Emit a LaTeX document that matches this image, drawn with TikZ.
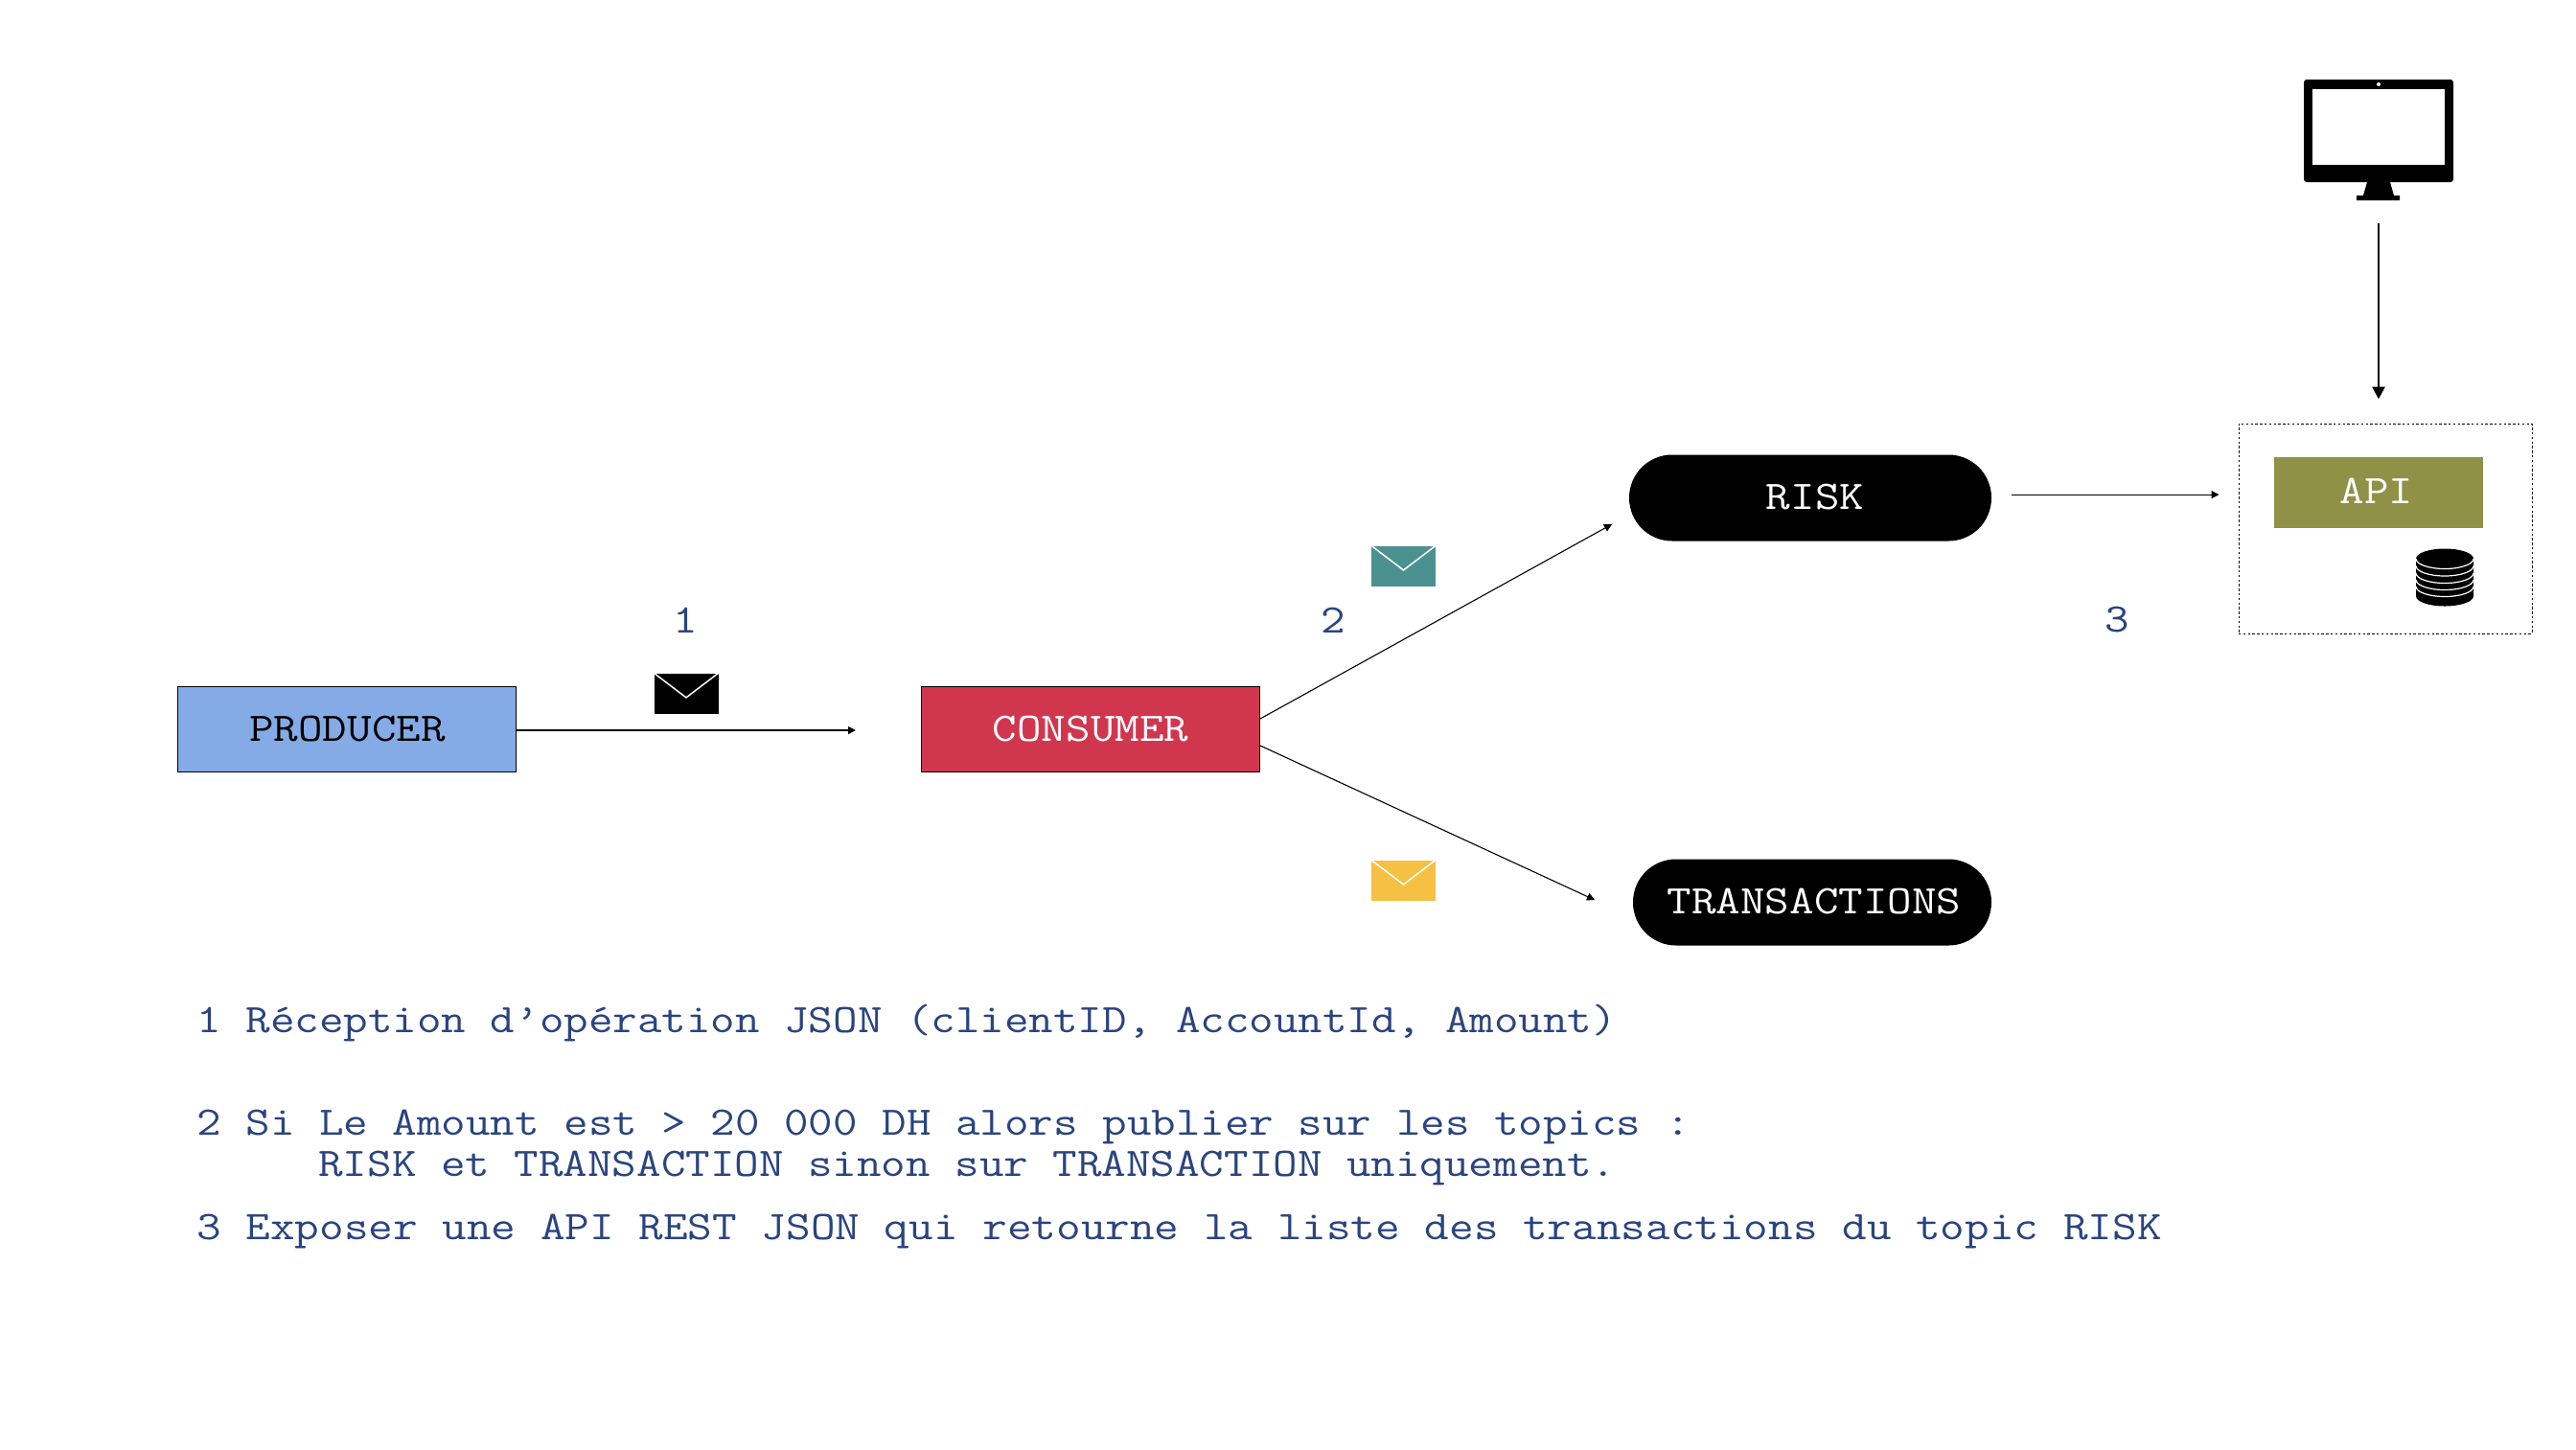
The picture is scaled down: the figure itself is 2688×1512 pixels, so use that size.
\documentclass[tikz,border=0pt]{standalone}
\usepackage{fontspec}
\setmonofont[FakeStretch=1.172]{Latin Modern Mono}
\usetikzlibrary{arrows.meta,calc}
\definecolor{txtblue}{HTML}{2A4480}
\definecolor{prodblue}{HTML}{85ABE6}
\definecolor{consred}{HTML}{D0374F}
\definecolor{apiolive}{HTML}{8F9146}
\definecolor{envteal}{HTML}{4B9190}
\definecolor{envyellow}{HTML}{F5C044}
\tikzset{
  x=0.5pt,y=-0.5pt,
  mono/.style={font=\ttfamily\fontsize{21.16pt}{25pt}\selectfont},
  mono3/.style={font=\ttfamily\fontsize{21.23pt}{25pt}\selectfont},
  boxnode/.style={mono,rectangle,draw=black,line width=0.5pt,minimum width=176.5pt,minimum height=44.5pt,inner sep=0pt},
  pill/.style={mono,rectangle,fill=black,text=white,rounded corners=22.4pt,minimum height=45pt,inner sep=0pt},
  numlabel/.style={mono,text=txtblue,inner sep=0pt,anchor=center},
  note/.style={mono,text=txtblue,inner sep=0pt,anchor=base west},
  note3/.style={note,mono3},
  envnode/.style={rectangle,minimum width=33.5pt,minimum height=21pt,inner sep=0pt},
  thinarrow/.style={line width=0.55pt,-{Triangle[length=4pt,width=4pt]}},
  boldarrow/.style={line width=1.35pt,-{Triangle[length=6.5pt,width=6.5pt]}},
}
\newcommand{\envelopeat}[4]{%
  \node[envnode,fill=#4] (#1) at (#2,#3) {};
  \draw[white,line width=0.75pt] (#1.north west) -- ([yshift=-2.2pt]#1.center) -- (#1.north east);
}
\begin{document}
\begin{tikzpicture}
\useasboundingbox (0,0) rectangle (2688,1512);
\fill[white] (0,0) rectangle (2688,1512);

% main boxes
\node[boxnode,fill=prodblue] (producer) at (361.5,761) {\hspace*{1pt}PRODUCER};
\node[boxnode,fill=consred,text=white] (consumer) at (1138,761) {CONSUMER};
\node[pill,minimum width=189pt] (risk) at (1889,519.5) {};
\node[mono,text=white,inner sep=0pt] (risktext) at (1894,518.5) {RISK};
\node[pill,minimum width=187pt] (transactions) at (1891,941.5) {};
\node[mono,text=white,inner sep=0pt] (transtext) at (1893,941) {TRANSACTIONS};

% API group
\node[rectangle,draw=black,densely dashed,dash pattern=on 1.2pt off 1.2pt,line width=0.5pt,minimum width=153pt,minimum height=109.5pt,inner sep=0pt] (apigroup) at (2489,551.5) {};
\node[mono,rectangle,fill=apiolive,text=white,minimum width=109pt,minimum height=37pt,inner sep=0pt] (api) at (2482,514) {};
\node[mono,text=white,inner sep=0pt] (apitext) at (2480,512) {API};

% database
\fill[black] (2521,583) arc[start angle=180,end angle=0,x radius=15pt,y radius=5.25pt] -- (2581,622) arc[start angle=0,end angle=-180,x radius=15pt,y radius=5.25pt] -- cycle;
\foreach \yy in {583,590.5,598,605,612}{
  \draw[white,line width=0.6pt] (2521,\yy) arc[start angle=180,end angle=360,x radius=15pt,y radius=5.25pt];
}

% monitor
\node[rectangle,fill=black,rounded corners=1.5pt,minimum width=78pt,minimum height=53.5pt,inner sep=0pt] (monitor) at (2482,136.5) {};
\node[rectangle,fill=white,minimum width=69pt,minimum height=39.5pt,inner sep=0pt] (screen) at (2482,132.5) {};
\fill[white] (2482,88) circle (1pt);
\fill[black] (2470,190) -- (2494,190) -- (2498,204) -- (2504,204) -- (2504,209) -- (2459,209) -- (2459,204) -- (2466,204) -- cycle;

% envelopes
\envelopeat{envblack}{716}{723.5}{black}
\envelopeat{envtop}{1464.5}{590.5}{envteal}
\envelopeat{envbot}{1464.5}{918.5}{envyellow}

% connectors
\coordinate (riskin) at (1682,547);
\coordinate (transin) at (1664,939);
\draw[thinarrow,shorten >=34pt] ([yshift=-0.5pt]producer.east) -- ([yshift=-0.5pt]consumer.west);
\draw[thinarrow] ([yshift=5.5pt]consumer.east) -- (riskin);
\draw[thinarrow] ([yshift=-8.5pt]consumer.east) -- (transin);
\draw[thinarrow,shorten <=10.5pt,shorten >=10pt] ([yshift=1.7pt]risk.east) -- ([yshift=1.7pt]risk.east -| apigroup.west);
\draw[boldarrow,shorten <=21.5pt,shorten >=12.5pt] (monitor.south) -- (monitor.south |- apigroup.north);

% numbers
\node[numlabel] (num1) at (715,647) {1};
\node[numlabel] (num2) at (1391,647) {2};
\node[numlabel] (num3) at (2209,647) {3};

% notes
\node[note] (l1) at (205,1077) {1 Réception d’opération JSON (clientID, AccountId, Amount)};
\node[note] (l2) at (205,1184) {2 Si Le Amount est > 20 000 DH alors publier sur les topics :};
\node[note] (l2b) at (332,1227) {RISK et TRANSACTION sinon sur TRANSACTION uniquement.};
\node[note3] (l3) at (205,1293) {3 Exposer une API REST JSON qui retourne la liste des transactions du topic RISK};
\end{tikzpicture}
\end{document}
